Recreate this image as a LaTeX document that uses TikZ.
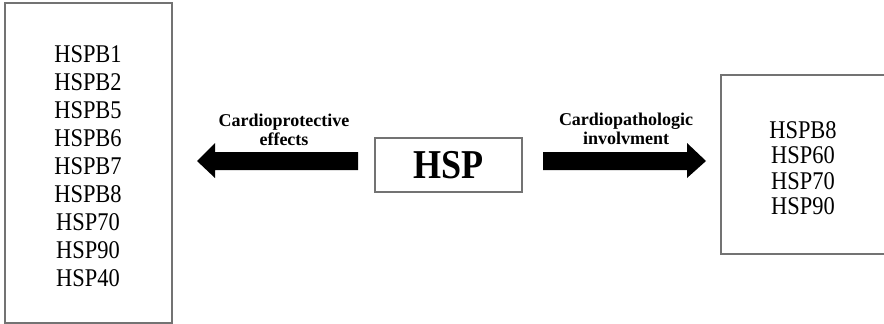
\documentclass[tikz,border=0pt]{standalone}
\usepackage{fontspec}
\setmainfont{Liberation Serif}[FakeStretch=0.88]
\newfontfamily\labfont{Liberation Serif}
\begin{document}
\begin{tikzpicture}[x=1pt,y=-1pt,
  boxline/.style={draw=black!55, line width=1.3pt, inner sep=0pt},
  listtext/.style={inner sep=0pt, align=center, font=\fontsize{25.5}{28.1}\selectfont},
  rlisttext/.style={inner sep=0pt, align=center, font=\fontsize{25.5}{25.3}\selectfont},
  labtext/.style={inner sep=0pt, align=center, font=\labfont\bfseries\fontsize{18}{19.5}\selectfont},
  fatarrow/.style={fill=black, draw=none}]
\useasboundingbox (0,0) rectangle (884,324);
% boxes
\node[boxline, minimum width=167pt, minimum height=320pt] (lbox) at (88.5,163) {};
\node[boxline, minimum width=147pt, minimum height=54pt] (hsp) at (448.5,165) {};
\node[boxline, minimum width=170pt, minimum height=179pt] (rbox) at (806,164.5) {};
% texts
\node[listtext, anchor=north] (ltext) at (88,45) {HSPB1\\HSPB2\\HSPB5\\HSPB6\\HSPB7\\HSPB8\\HSP70\\HSP90\\HSP40};
\node[rlisttext, anchor=north] (rtext) at (803,121.5) {HSPB8\\HSP60\\HSP70\\HSP90};
\node[inner sep=0pt, font=\bfseries\fontsize{41}{41}\selectfont] (hsptext) at (hsp.center) {HSP};
% labels
\node[labtext, anchor=north] (llab) at (284,113.5) {Cardioprotective\\effects};
\node[labtext, anchor=north] (rlab) at (626,112.5) {Cardiopathologic\\involvment};
% arrows
\coordinate (la) at (358,161);
\coordinate (ra) at (543,161);
\fill[fatarrow] (la) ++(0,-9) -- (215,152) -- (215,143) -- (197,161) -- (215,178) -- (215,170) -- (358,170) -- cycle;
\fill[fatarrow] (ra) ++(0,-9) -- (687,152) -- (687,143) -- (706,161) -- (687,178) -- (687,170) -- (543,170) -- cycle;
\end{tikzpicture}
\end{document}
